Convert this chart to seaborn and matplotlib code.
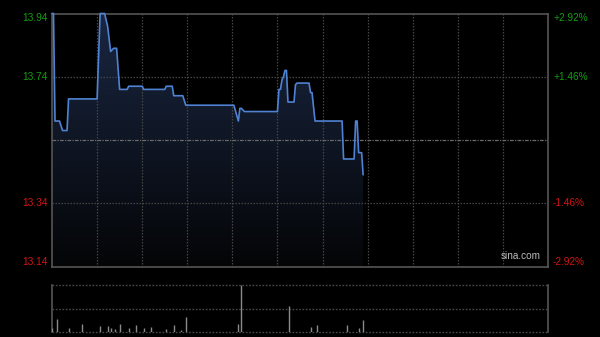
import numpy as np
import pandas as pd
import matplotlib
matplotlib.use("Agg")
import matplotlib.pyplot as plt
import seaborn as sns
from matplotlib.colors import LinearSegmentedColormap

# ---- data (minutes since open, HK session 330 minutes) ----
price_minutes = [0, 1, 2, 5, 7, 10, 11, 30, 32, 35, 37, 39, 41, 43, 45, 50, 51, 60, 61, 75,
                 76, 80, 81, 87, 89, 121, 124, 125, 126, 128, 150, 151, 152, 153, 154, 155,
                 156, 157, 161, 162, 163, 171, 172, 173, 175, 193, 194, 201, 202, 203, 204,
                 206, 207]
prices = [13.94, 13.94, 13.60, 13.60, 13.57, 13.57, 13.67, 13.67, 13.94, 13.94, 13.90, 13.82,
          13.83, 13.83, 13.70, 13.70, 13.71, 13.71, 13.70, 13.70, 13.71, 13.71, 13.68, 13.68,
          13.65, 13.65, 13.60, 13.64, 13.64, 13.63, 13.63, 13.70, 13.70, 13.73, 13.74, 13.76,
          13.76, 13.66, 13.66, 13.715, 13.72, 13.72, 13.69, 13.69, 13.60, 13.60, 13.48, 13.48,
          13.60, 13.60, 13.50, 13.50, 13.43]

vol_minutes = [0, 3, 11, 20, 32, 37, 39, 42, 45, 51, 56, 61, 66, 76, 81, 86, 89, 124, 126,
               158, 172, 176, 196, 204, 207]
volumes = [43, 130, 43, 77, 57, 57, 37, 30, 77, 37, 67, 37, 55, 27, 67, 20, 150, 83, 470,
           256, 47, 67, 67, 40, 123]

left_labels = ["13.94", "13.74", "13.34", "13.14"]
left_values = [13.94, 13.74, 13.34, 13.14]
right_labels = ["+2.92%", "+1.46%", "-1.46%", "-2.92%"]
ref_price = 13.54
label_colors = ["#149c14", "#149c14", "#d41414", "#d41414"]

# ---- figure ----
sns.set_style("dark")
plt.rcParams["font.family"] = ["Liberation Sans", "DejaVu Sans"]
fig = plt.figure(figsize=(6.0, 3.37), dpi=100, facecolor="black")
ax = fig.add_axes([52 / 600, 70.5 / 337, 496 / 600, 253 / 337])
axv = fig.add_axes([52 / 600, 5 / 337, 496 / 600, 47 / 337])

ymin, ymax = 13.14, 13.94
for a in (ax, axv):
    a.set_facecolor("black")
    a.set_xlim(0, 330)
    a.set_xticks([])
    a.set_yticks([])
    a.grid(False)

ax.set_ylim(ymin, ymax)
for s in ax.spines.values():
    s.set_color("#555555")
    s.set_linewidth(1.2)

df = pd.DataFrame({"minute": price_minutes, "price": prices})

# gradient fill under line
poly = ax.fill_between(df["minute"], df["price"], ymin, color="none", lw=0)
grad = np.linspace(1, 0, 256).reshape(-1, 1)
cmap = LinearSegmentedColormap.from_list("g", ["#040507", "#1a2742"])
img = ax.imshow(grad, cmap=cmap, aspect="auto", extent=[0, 330, ymin, ymax],
                origin="upper", zorder=1, vmin=0, vmax=1)
path = poly.get_paths()[0]
img.set_clip_path(path, ax.transData)

# grid (drawn over the fill)
grid_kw = dict(color="#454545", lw=0.9, linestyle=(0, (1.2, 1.2)), zorder=2)
for k in range(1, 11):
    ax.axvline(30 * k, **grid_kw)
ax.axhline(13.74, **grid_kw)
ax.axhline(13.34, **grid_kw)
ax.axhline(ref_price, color="#6a6a6a", lw=0.9, linestyle=(0, (3, 1, 1, 1)), zorder=3)

sns.lineplot(data=df, x="minute", y="price", ax=ax, color="#4f82d2", lw=1.2,
             estimator=None, sort=False, zorder=4)
ax.lines[-1].set_clip_on(False)
ax.set_xlabel("")
ax.set_ylabel("")
ax.set_xlim(0, 330)
ax.set_ylim(ymin, ymax)

# labels
offsets = [-4.5, 0, 0, 4.5]
for v, lab, rlab, c, off in zip(left_values, left_labels, right_labels, label_colors, offsets):
    ax.annotate(lab, xy=(0, v), xycoords=("axes fraction", "data"), xytext=(-4, off),
                textcoords="offset pixels", ha="right", va="center", color=c, fontsize=7.3)
    ax.annotate(rlab, xy=(1, v), xycoords=("axes fraction", "data"), xytext=(5, off),
                textcoords="offset pixels", ha="left", va="center", color=c, fontsize=7.3)

ax.text(0.985, 0.02, "sina.com", transform=ax.transAxes, ha="right", va="bottom",
        color="#bbbbbb", fontsize=7.2)

# volume panel
vmax = max(volumes)
axv.set_ylim(0, vmax)
for name, s in axv.spines.items():
    if name in ("left", "right"):
        s.set_color("#555555")
        s.set_linewidth(1.2)
    else:
        s.set_visible(False)
for yv in (0, vmax / 2, vmax):
    axv.axhline(yv, color="#4a4a4a", lw=1.0, linestyle=(0, (1.2, 1.2)), zorder=1, clip_on=False)
axv.vlines(vol_minutes, 0, volumes, color="#8a8a8a", lw=1.0, zorder=3)

fig.savefig("out.png", dpi=100, facecolor="black")
